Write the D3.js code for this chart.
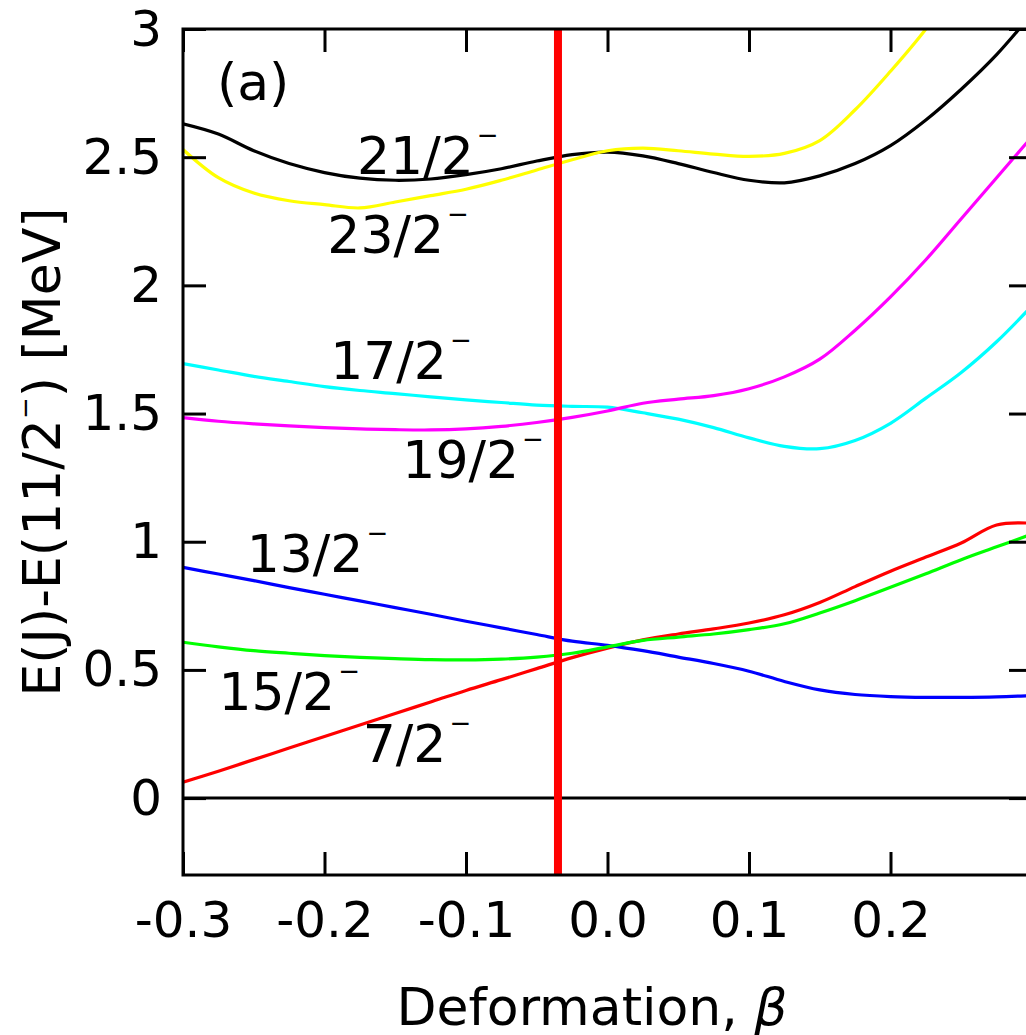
<!DOCTYPE html>
<html>
<head>
<meta charset="utf-8">
<script src="https://cdn.jsdelivr.net/npm/d3@7"></script>
<style>
  body { margin: 0; background: #fff; }
  text { font-family: "DejaVu Sans", sans-serif; fill: #000; }
</style>
</head>
<body>
<svg id="chart" width="1026" height="1035"></svg>
<script>
// deformation grid (beta) and level energies E(J)-E(11/2-) in MeV
const beta = [-0.3, -0.275, -0.25, -0.225, -0.2, -0.175, -0.15, -0.125, -0.1, -0.075, -0.05, -0.025,
	0, 0.025, 0.05, 0.075, 0.1, 0.125, 0.15, 0.175, 0.2, 0.225, 0.25, 0.275, 0.3];

const e7 = [0.062, 0.105, 0.15, 0.195, 0.24, 0.285, 0.33, 0.375, 0.42, 0.462, 0.505, 0.548,
	0.585, 0.617, 0.64, 0.66, 0.683, 0.715, 0.763, 0.825, 0.885, 0.94, 0.995, 1.065, 1.072];
const e13 = [0.9, 0.874, 0.848, 0.821, 0.795, 0.769, 0.743, 0.717, 0.69, 0.664, 0.638, 0.612,
	0.596, 0.575, 0.55, 0.525, 0.495, 0.455, 0.422, 0.404, 0.396, 0.393, 0.393, 0.395, 0.4];
const e15 = [0.608, 0.59, 0.575, 0.565, 0.556, 0.549, 0.544, 0.54, 0.539, 0.542, 0.55, 0.565,
	0.59, 0.615, 0.628, 0.64, 0.657, 0.68, 0.722, 0.77, 0.822, 0.875, 0.93, 0.98, 1.03];
const e17 = [1.695, 1.67, 1.645, 1.625, 1.605, 1.59, 1.578, 1.565, 1.553, 1.543, 1.533, 1.528,
	1.525, 1.503, 1.478, 1.445, 1.405, 1.372, 1.363, 1.395, 1.462, 1.56, 1.66, 1.78, 1.92];
const e19 = [1.484, 1.47, 1.46, 1.452, 1.445, 1.44, 1.437, 1.436, 1.44, 1.45, 1.465, 1.485,
	1.51, 1.54, 1.556, 1.57, 1.597, 1.643, 1.712, 1.825, 1.955, 2.1, 2.26, 2.42, 2.58];
const e21 = [2.63, 2.59, 2.525, 2.475, 2.44, 2.418, 2.41, 2.415, 2.432, 2.455, 2.485, 2.51,
	2.52, 2.505, 2.475, 2.44, 2.41, 2.4, 2.427, 2.475, 2.545, 2.645, 2.765, 2.9, 3.06];
const e23 = [2.53, 2.42, 2.36, 2.33, 2.315, 2.302, 2.325, 2.35, 2.375, 2.41, 2.45, 2.49,
	2.525, 2.535, 2.525, 2.512, 2.503, 2.515, 2.565, 2.685, 2.835, 3.0, 3.2, 3.45, 3.7];

const xTicks = [-0.3, -0.2, -0.1, 0.0, 0.1, 0.2, 0.3];
const xTickLabels = ['-0.3', '-0.2', '-0.1', '0.0', '0.1', '0.2', ''];
const yTicks = [0, 0.5, 1, 1.5, 2, 2.5, 3];
const yTickLabels = ['0', '0.5', '1', '1.5', '2', '2.5', '3'];

const betaMark = -0.035; // red vertical marker

// level labels, anchored in data coordinates
const labelText = ['21/2', '23/2', '17/2', '19/2', '13/2', '15/2', '7/2'];
const labelBeta = [-0.177, -0.198, -0.196, -0.145, -0.255, -0.275, -0.173];
const labelE = [2.435, 2.127, 1.636, 1.247, 0.88, 0.343, 0.14];

const series = [
	{ name: '7/2', color: '#ff0000', values: e7 },
	{ name: '13/2', color: '#0000ff', values: e13 },
	{ name: '15/2', color: '#00ff00', values: e15 },
	{ name: '17/2', color: '#00ffff', values: e17 },
	{ name: '19/2', color: '#ff00ff', values: e19 },
	{ name: '21/2', color: '#000000', values: e21 },
	{ name: '23/2', color: '#ffff00', values: e23 }
];

const pLeft = 183, pRight = 1032, pTop = 29, pBottom = 875;
const svg = d3.select('#chart');

const x = d3.scaleLinear().domain([-0.3, 0.3]).range([pLeft, pRight]);
const y = d3.scaleLinear().domain([-0.3, 3]).range([pBottom, pTop]);

svg.append('defs').append('clipPath').attr('id', 'plot')
	.append('rect')
	.attr('x', pLeft).attr('y', pTop)
	.attr('width', pRight - pLeft).attr('height', pBottom - pTop);

const line = d3.line()
	.x((d, i) => x(beta[i]))
	.y(d => y(d))
	.curve(d3.curveCatmullRom.alpha(0.5));

const g = svg.append('g').attr('clip-path', 'url(#plot)');

// zero line
g.append('line')
	.attr('x1', x(-0.3)).attr('x2', x(0.3))
	.attr('y1', y(0)).attr('y2', y(0))
	.attr('stroke', '#000').attr('stroke-width', 3);

g.selectAll('path.level')
	.data(series)
	.enter()
	.append('path')
	.attr('class', 'level')
	.attr('d', d => line(d.values))
	.attr('fill', 'none')
	.attr('stroke', d => d.color)
	.attr('stroke-width', 3.2);

g.append('line')
	.attr('x1', x(betaMark)).attr('x2', x(betaMark))
	.attr('y1', y(3)).attr('y2', y(-0.3))
	.attr('stroke', '#ff0000').attr('stroke-width', 8);

// axes, ticks pointing inward on all four sides
const fs = 52;
const axB = svg.append('g').attr('transform', `translate(0,${pBottom})`)
	.call(d3.axisBottom(x).tickValues(xTicks).tickSize(-23).tickPadding(26)
		.tickFormat((d, i) => xTickLabels[i]));
const axT = svg.append('g').attr('transform', `translate(0,${pTop})`)
	.call(d3.axisTop(x).tickValues(xTicks).tickSize(-23).tickFormat(''));
const axL = svg.append('g').attr('transform', `translate(${pLeft},0)`)
	.call(d3.axisLeft(y).tickValues(yTicks).tickSize(-23).tickPadding(21)
		.tickFormat((d, i) => yTickLabels[i]));
const axR = svg.append('g').attr('transform', `translate(${pRight},0)`)
	.call(d3.axisRight(y).tickValues(yTicks).tickSize(-23).tickFormat(''));

[axB, axT, axL, axR].forEach(a => {
	a.select('.domain').remove();
	a.selectAll('line').attr('stroke', '#000').attr('stroke-width', 3);
	a.selectAll('text').style('font-family', '"DejaVu Sans"').style('font-size', '50px');
});

svg.append('rect')
	.attr('x', pLeft).attr('y', pTop)
	.attr('width', pRight - pLeft).attr('height', pBottom - pTop)
	.attr('fill', 'none').attr('stroke', '#000').attr('stroke-width', 3);

// level labels
labelText.forEach((t, i) => {
	const txt = svg.append('text')
		.attr('x', x(labelBeta[i]))
		.attr('y', y(labelE[i]))
		.style('font-size', fs + 'px')
		.text(t);
	txt.append('tspan')
		.attr('dx', 3).attr('dy', -30)
		.style('font-size', '26px')
		.text('\u2212');
});

svg.append('text')
	.attr('x', x(-0.276)).attr('y', y(2.723))
	.style('font-size', fs + 'px')
	.text('(a)');

// axis titles
svg.append('text')
	.attr('transform', 'translate(592,1025)')
	.attr('text-anchor', 'middle')
	.style('font-size', '52px')
	.html('Deformation, <tspan font-style="italic">\u03b2</tspan>');

const yl = svg.append('text')
	.attr('transform', 'translate(60,452) rotate(-90)')
	.attr('text-anchor', 'middle')
	.style('font-size', fs + 'px');
yl.append('tspan').text('E(J)-E(11/2');
yl.append('tspan').attr('dy', -26).style('font-size', '26px').text('\u2212');
yl.append('tspan').attr('dy', 26).text(') [MeV]');
</script>
</body>
</html>
